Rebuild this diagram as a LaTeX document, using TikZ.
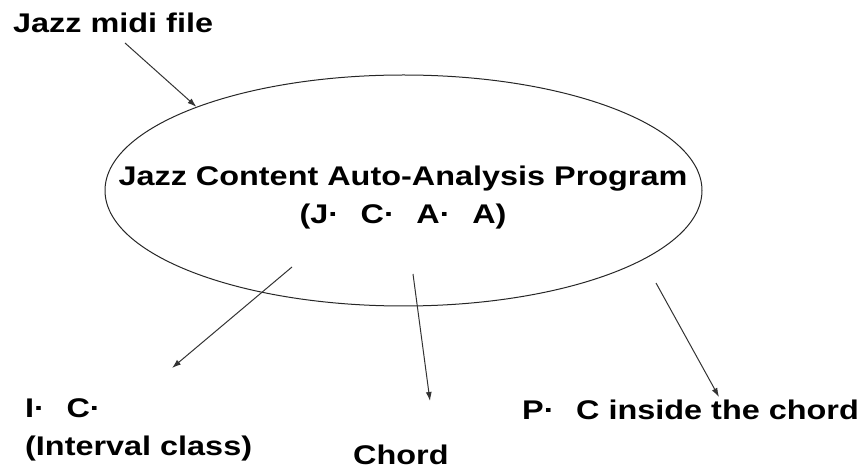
\documentclass[tikz,border=0pt]{standalone}
\usepackage{fontspec}
\setmainfont{Liberation Sans}[FakeStretch=1.2]
\usetikzlibrary{shapes.geometric,arrows.meta}

\tikzset{
  lbl/.style={inner sep=0pt,font=\fontsize{27}{38}\selectfont\bfseries},
  prog/.style={ellipse,draw=black!85,line width=1pt,minimum width=597pt,minimum height=231pt,inner sep=0pt},
  flow/.style={draw=black!80,line width=1pt,-{Latex[length=9pt,width=6pt]}}
}

\begin{document}
\begin{tikzpicture}[x=1pt,y=-1pt]
\useasboundingbox (0,0) rectangle (863,470);

\node[lbl,anchor=base west] (src) at (13,33) {Jazz midi file};
\node[prog] (prog) at (403.5,190.5) {};
\node[lbl,align=center] (ttl) at (403,198) {Jazz Content Auto-Analysis Program\\(J·\hspace{.8em}C·\hspace{.8em}A·\hspace{.8em}A)};

\node[lbl,align=left,anchor=north west] (ic) at (25,398) {I·\hspace{.8em}C·\\(Interval class)};
\node[lbl,anchor=base west] (chord) at (353,465) {Chord};
\node[lbl,anchor=base west] (pc) at (522,420) {P·\hspace{.8em}C inside the chord};

\coordinate (srcout) at (125,43);
\coordinate (icin) at (292,267);
\coordinate (ictip) at (172,368);
\coordinate (chin) at (413,274);
\coordinate (chtip) at (430,401);
\coordinate (pcin) at (656,283);
\coordinate (pctip) at (719,397);

\draw[flow] (srcout) -- (prog.158);
\draw[flow] (icin) -- (ictip);
\draw[flow] (chin) -- (chtip);
\draw[flow] (pcin) -- (pctip);

\end{tikzpicture}
\end{document}
